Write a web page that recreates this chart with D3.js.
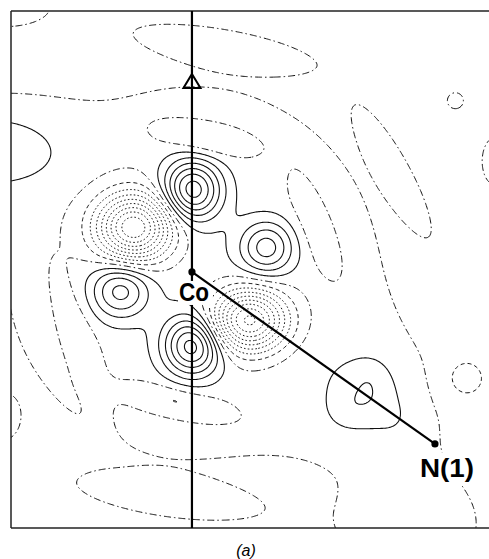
<!DOCTYPE html>
<html>
<head>
<meta charset="utf-8">
<script src="https://cdn.jsdelivr.net/npm/d3@7"></script>
<style>
  body { margin: 0; background: #fff; }
  svg { display: block; }
</style>
</head>
<body>
<svg id="map" width="489" height="559"></svg>
<script>
// Deformation density section through Co and N(1).
// Distances in Å relative to Co (x to the right, y upward), densities in e Å^-3.

const atoms = [
  { label: "Co",   x: 0.000, y:  0.000 },
  { label: "N(1)", x: 1.676, y: -1.186 }
];
const axisMarker = { x: 0.0, y: 1.31 };          // open triangle on the vertical axis
const mapX = [-1.248, 2.097];
const mapY = [-1.766, 1.800];

// Peaks of the section: centre, height, widths and orientation (deg, counter-clockwise)
const lobes = [
  { name: "d lobe up",        x:  0.000, y:  0.570, h:  0.31, sx: 0.140, sy: 0.145, rot: 0 },
  { name: "d lobe down",      x:  0.000, y: -0.505, h:  0.31, sx: 0.140, sy: 0.145, rot: 0 },
  { name: "d lobe right",     x:  0.510, y:  0.172, h:  0.20, sx: 0.128, sy: 0.128, rot: 0 },
  { name: "d lobe left",      x: -0.497, y: -0.124, h:  0.20, sx: 0.140, sy: 0.135, rot: 0 },
  { name: "hole upper left",  x: -0.405, y:  0.310, h: -0.47, sx: 0.180, sy: 0.160, rot: 0 },
  { name: "hole lower right", x:  0.390, y: -0.331, h: -0.45, sx: 0.185, sy: 0.150, rot: 0 },
  { name: "N lone pair",      x:  1.200, y: -0.862, h:  0.075, sx: 0.165, sy: 0.165, rot: 0 },
  { name: "lone pair, top",   x:  1.234, y: -0.690, h:  0.020, sx: 0.090, sy: 0.090, rot: 0 },
  { name: "lone pair, left",  x:  1.034, y: -0.966, h:  0.020, sx: 0.090, sy: 0.090, rot: 0 },
  { name: "lone pair, right", x:  1.400, y: -1.021, h:  0.020, sx: 0.090, sy: 0.090, rot: 0 },
  { name: "hole far right",   x:  1.883, y: -0.731, h: -0.060, sx: 0.110, sy: 0.110, rot: 0 }
];

// Weak background features of the section
const baseLevel = -0.02;
const background = [
  { x:  0.000, y:  0.000, h:  0.050, sx: 0.945, sy: 0.945, rot:   0 },
  { x: -1.428, y:  0.841, h:  0.110, sx: 0.360, sy: 0.190, rot:   0 },
  { x: -1.324, y:  1.841, h:  0.030, sx: 0.290, sy: 0.130, rot:   0 },
  { x:  1.021, y: -0.745, h:  0.030, sx: 0.620, sy: 0.310, rot: -35 },
  { x:  1.503, y: -1.779, h:  0.035, sx: 0.379, sy: 0.276, rot:   0 },
  { x:  0.090, y:  0.905, h: -0.070, sx: 0.200, sy: 0.069, rot: -10 },
  { x:  0.834, y:  0.290, h: -0.045, sx: 0.248, sy: 0.076, rot: -68.5 },
  { x: -0.780, y: -0.410, h: -0.045, sx: 0.300, sy: 0.079, rot: -72.6 },
  { x: -0.110, y: -0.880, h: -0.070, sx: 0.240, sy: 0.065, rot: -12 },
  { x:  0.214, y:  1.552, h:  0.030, sx: 0.428, sy: 0.083, rot: -10 },
  { x:  1.814, y:  1.186, h:  0.030, sx: 0.050, sy: 0.050, rot:   0 },
  { x:  1.386, y:  0.697, h:  0.030, sx: 0.331, sy: 0.072, rot: -61 },
  { x:  2.090, y:  0.772, h:  0.030, sx: 0.083, sy: 0.152, rot:   0 },
  { x: -0.152, y: -1.552, h:  0.030, sx: 0.428, sy: 0.090, rot:  -8 },
  { x: -1.303, y: -1.007, h:  0.030, sx: 0.070, sy: 0.100, rot:   0 }
];

const contourLevels = [-0.50, -0.45, -0.40, -0.35, -0.30, -0.25, -0.20, -0.15, -0.10, -0.05,
                       0, 0.05, 0.10, 0.15, 0.20, 0.25, 0.30, 0.35];

// ---- layout ----
const frame = { left: 11, top: 11, right: 496, bottom: 528 };
const svg = d3.select("#map");
const x = d3.scaleLinear().domain(mapX).range([frame.left, frame.right]);
const y = d3.scaleLinear().domain(mapY).range([frame.bottom, frame.top]);

function term(t, X, Y) {
  const a = t.rot * Math.PI / 180, c = Math.cos(a), s = Math.sin(a);
  const dx = X - t.x, dy = Y - t.y;
  const u = dx * c + dy * s, v = -dx * s + dy * c;
  return t.h * Math.exp(-0.5 * (u * u / (t.sx * t.sx) + v * v / (t.sy * t.sy)));
}
function density(X, Y) {
  let f = baseLevel;
  for (const t of background) f += term(t, X, Y);
  for (const t of lobes) f += term(t, X, Y);
  return f;
}

// sample on a grid a little larger than the frame
const step = 0.008;
const gx0 = mapX[0] - 0.06, gx1 = mapX[1] + 0.06;
const gy0 = mapY[0] - 0.06, gy1 = mapY[1] + 0.06;
const nx = Math.ceil((gx1 - gx0) / step) + 1;
const ny = Math.ceil((gy1 - gy0) / step) + 1;
const grid = new Float64Array(nx * ny);
for (let j = 0; j < ny; j++) {
  const Y = gy1 - j * step;
  for (let i = 0; i < nx; i++) grid[i + j * nx] = density(gx0 + i * step, Y);
}

const contours = d3.contours().size([nx, ny]).thresholds(contourLevels)(grid);
const toPage = d3.geoTransform({
  point(px, py) { this.stream.point(x(gx0 + px * step), y(gy1 - py * step)); }
});
const path = d3.geoPath(toPage);

svg.append("clipPath").attr("id", "frameClip")
  .append("rect")
  .attr("x", frame.left).attr("y", frame.top)
  .attr("width", frame.right - frame.left).attr("height", frame.bottom - frame.top);

function dashFor(v) {
  if (Math.abs(v) < 1e-9) return "7,3,1.5,3";
  if (v > 0) return null;
  if (v > -0.075) return "4,3";
  return "1.6,2.2";
}

svg.append("g").attr("clip-path", "url(#frameClip)")
  .selectAll("path")
  .data(contours)
  .join("path")
  .attr("d", path)
  .attr("fill", "none")
  .attr("stroke", "#111")
  .attr("stroke-width", d => d.value > 0 ? 1.1 : 1.0)
  .attr("stroke-dasharray", d => dashFor(d.value));

// frame
const fr = svg.append("g").attr("stroke", "#222").attr("stroke-width", 1.5).attr("fill", "none");
fr.append("line").attr("x1", frame.left).attr("y1", frame.top).attr("x2", frame.right).attr("y2", frame.top);
fr.append("line").attr("x1", frame.left).attr("y1", frame.top).attr("x2", frame.left).attr("y2", frame.bottom);
fr.append("line").attr("x1", frame.left).attr("y1", frame.bottom).attr("x2", frame.right).attr("y2", frame.bottom);

const co = atoms[0], n1 = atoms[1];

// vertical axis through Co
svg.append("line")
  .attr("x1", x(co.x)).attr("y1", y(mapY[1])).attr("x2", x(co.x)).attr("y2", y(mapY[0]))
  .attr("stroke", "#000").attr("stroke-width", 2.2);

// open triangle marker
const tx = x(axisMarker.x), ty = y(axisMarker.y);
svg.append("path")
  .attr("d", `M${tx},${ty - 8}L${tx + 8.5},${ty + 6}L${tx - 8.5},${ty + 6}Z`)
  .attr("fill", "none").attr("stroke", "#000").attr("stroke-width", 2);

// label knock-outs
svg.append("rect")
  .attr("x", x(co.x) - 14).attr("y", y(co.y) + 9).attr("width", 35).attr("height", 24)
  .attr("fill", "#fff");
svg.append("rect")
  .attr("x", x(n1.x) - 18).attr("y", y(n1.y) + 9).attr("width", 60).attr("height", 32)
  .attr("fill", "#fff");

// Co–N(1) bond
svg.append("line")
  .attr("x1", x(co.x)).attr("y1", y(co.y)).attr("x2", x(n1.x)).attr("y2", y(n1.y))
  .attr("stroke", "#000").attr("stroke-width", 2.2);

// atoms
svg.selectAll("circle.atom").data(atoms).join("circle")
  .attr("class", "atom")
  .attr("cx", d => x(d.x)).attr("cy", d => y(d.y)).attr("r", 3.6).attr("fill", "#000");

const labelStyle = sel => sel
  .attr("font-family", "'Liberation Sans', Arial, sans-serif")
  .attr("font-weight", "bold")
  .attr("fill", "#000");

svg.append("text").call(labelStyle)
  .attr("x", x(co.x) - 13).attr("y", y(co.y) + 29)
  .attr("font-size", 25)
  .attr("textLength", 30).attr("lengthAdjust", "spacingAndGlyphs")
  .text(atoms[0].label);

svg.append("text").call(labelStyle)
  .attr("x", x(n1.x) - 15).attr("y", y(n1.y) + 33)
  .attr("font-size", 25)
  .attr("textLength", 54).attr("lengthAdjust", "spacingAndGlyphs")
  .text(atoms[1].label);

svg.append("text")
  .attr("x", 246).attr("y", 556)
  .attr("text-anchor", "middle")
  .attr("font-family", "'Liberation Sans', Arial, sans-serif")
  .attr("font-style", "italic")
  .attr("font-size", 16)
  .text("(a)");
</script>
</body>
</html>
